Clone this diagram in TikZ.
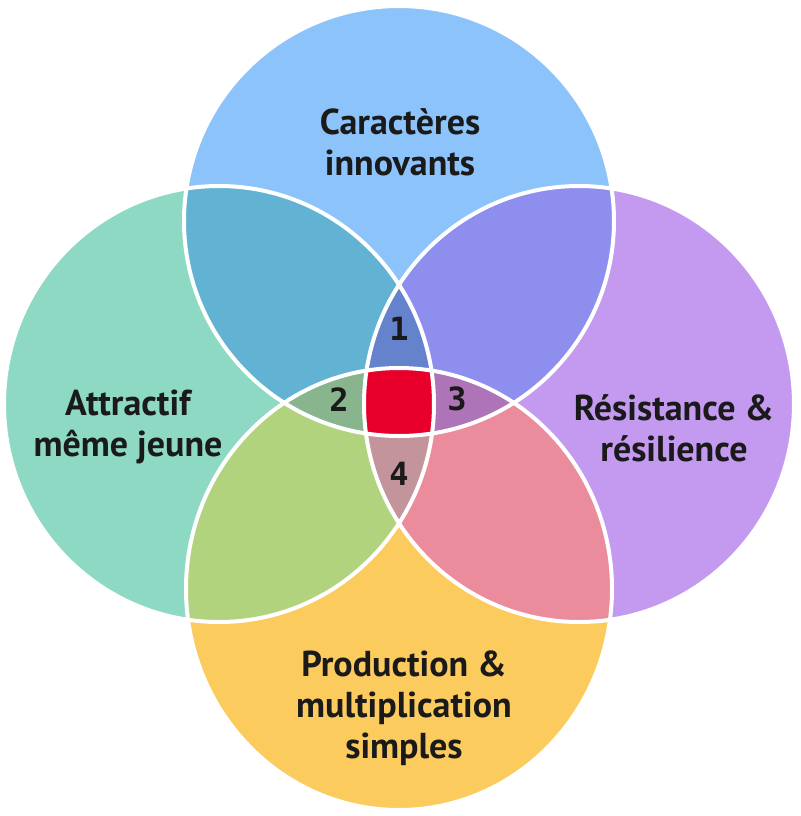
\documentclass[tikz,border=0pt]{standalone}
\usepackage{fontspec}
\setmainfont{PT Sans}
\newfontfamily\digitfont{DejaVu Sans Mono}
\definecolor{ink}{RGB}{26, 26, 26}
\definecolor{sky}{RGB}{140, 195, 250}
\definecolor{mint}{RGB}{142, 217, 195}
\definecolor{lilac}{RGB}{195, 154, 240}
\definecolor{sun}{RGB}{252, 203, 94}
\definecolor{skymint}{RGB}{98, 179, 211}
\definecolor{skylilac}{RGB}{142, 142, 238}
\definecolor{mintsun}{RGB}{178, 211, 126}
\definecolor{lilacsun}{RGB}{234, 140, 156}
\definecolor{one}{RGB}{101, 130, 204}
\definecolor{two}{RGB}{136, 181, 142}
\definecolor{three}{RGB}{173, 116, 184}
\definecolor{four}{RGB}{196, 148, 156}
\definecolor{core}{RGB}{232, 0, 42}

% the four circles
\newcommand{\circT}{(399, 221) ellipse [x radius=215, y radius=215]}
\newcommand{\circL}{(219, 404) ellipse [x radius=215, y radius=218]}
\newcommand{\circR}{(579, 404) ellipse [x radius=215, y radius=218]}
\newcommand{\circB}{(399, 589) ellipse [x radius=213, y radius=221]}

\tikzset{
  title/.style={align=center, text=ink, font=\bfseries\fontsize{18}{20.5}\selectfont},
  num/.style={text=ink, font=\digitfont\bfseries\fontsize{16}{16}\selectfont}
}

\begin{document}
\begin{tikzpicture}[x=0.5pt, y=-0.5pt]
  \useasboundingbox (0, 0) rectangle (800, 816);
  \fill[white] (0, 0) rectangle (800, 816);

  \fill[sky] \circT;
  \fill[mint] \circL;
  \fill[lilac] \circR;
  \fill[sun] \circB;

  % two sets
  \begin{scope}
    \clip \circT;
    \fill[skymint] \circL;
    \fill[skylilac] \circR;
  \end{scope}
  \begin{scope}
    \clip \circB;
    \fill[mintsun] \circL;
    \fill[lilacsun] \circR;
  \end{scope}

  % three sets
  \begin{scope}
    \clip \circL; \clip \circR;
    \fill[one] \circT;
    \fill[four] \circB;
  \end{scope}
  \begin{scope}
    \clip \circT; \clip \circB;
    \fill[two] \circL;
    \fill[three] \circR;
  \end{scope}

  % all four
  \begin{scope}
    \clip \circT; \clip \circL; \clip \circR;
    \fill[core] \circB;
  \end{scope}

  \foreach \x/\y/\rx/\ry in {399/221/215/215, 219/404/215/218, 579/404/215/218, 399/589/213/221} {
    \draw[white, line width=2] (\x, \y) ellipse [x radius=\rx, y radius=\ry];
  }

  \node[title] (innov) at (400, 142) {Caractères\\innovants};
  \node[title] (attract) at (128, 427) {Attractif\\même jeune};
  \node[title] (resist) at (674, 428) {Résistance \&\\résilience};
  \node[title] (prod) at (404, 708) {Production \&\\multiplication\\simples};

  \node[num] (n1) at (399, 329) {1};
  \node[num] (n2) at (339, 400) {2};
  \node[num] (n3) at (457, 399) {3};
  \node[num] (n4) at (399, 474) {4};
\end{tikzpicture}
\end{document}
